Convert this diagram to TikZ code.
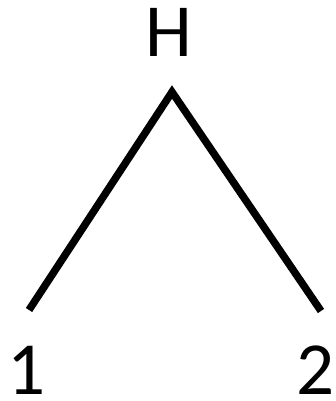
\documentclass[tikz,border=0pt]{standalone}
\usepackage{fontspec}
\setmainfont{Carlito}
\usetikzlibrary{positioning}

\begin{document}
\begin{tikzpicture}[
    x=1pt, y=1pt,
    lbl/.style={inner sep=0pt, anchor=base, text depth=0pt, font=\fontsize{75}{75}\selectfont},
    edge/.style={line width=7.5pt, line join=miter}
]
\useasboundingbox (0,0) rectangle (336,401);

% labels
\node[lbl] (top) at (169,344) {H};
\node[lbl] (one) at (27,6) {1};
\node[lbl] (two) at (316,6) {2};

% tree
\coordinate (apex) at (172,309);
\coordinate (leftend) at (29,91);
\coordinate (rightend) at (321,90);
\draw[edge] (leftend) -- (apex) -- (rightend);

\end{tikzpicture}
\end{document}
